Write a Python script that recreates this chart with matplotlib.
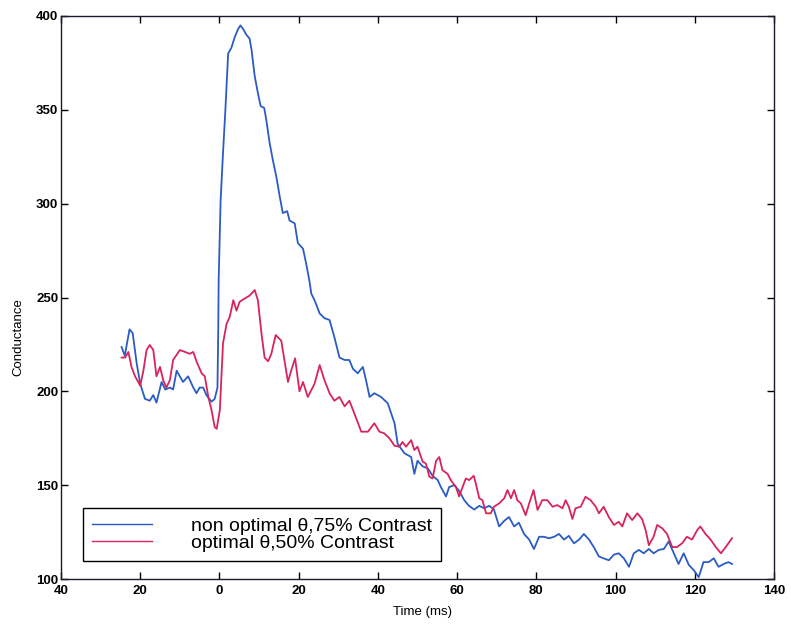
import matplotlib
matplotlib.use("Agg")
import matplotlib.pyplot as plt

# ---- data ----
blue_t = [-24.7, -23.9, -22.7, -21.9, -20.9, -20.0, -18.8, -17.6, -16.7, -15.9, -14.6, -13.7,
          -12.5, -11.7, -10.8, -10.0, -9.2, -7.9, -6.6, -5.8, -5.0, -4.1, -3.3, -2.0, -1.2,
          -0.5, -0.3, -0.2, 0.3, 0.9, 1.5, 2.2, 3.0, 3.9, 4.7, 5.3, 6.0, 6.8, 7.6, 8.1, 8.9,
          9.7, 10.4, 11.3, 11.8, 12.7, 13.5, 14.4, 15.2, 16.0, 17.1, 17.7, 19.0, 19.8, 21.1,
          21.9, 22.7, 23.2, 24.0, 25.3, 26.5, 27.8, 29.0, 30.3, 31.6, 32.8, 33.7, 34.9, 36.2,
          37.0, 37.9, 39.1, 40.8, 42.5, 44.2, 45.0, 46.7, 48.4, 49.2, 50.0, 51.3, 52.6, 53.8,
          55.1, 55.9, 57.2, 58.0, 59.3, 60.5, 61.8, 63.0, 64.3, 65.6, 66.8, 68.1, 69.3, 70.6,
          71.9, 73.1, 74.4, 75.6, 76.9, 78.2, 79.4, 80.7, 81.9, 83.2, 84.5, 85.7, 87.0, 88.2,
          89.5, 90.8, 92.0, 93.3, 94.5, 95.8, 97.0, 98.3, 99.6, 100.8, 102.1, 103.4, 104.6,
          105.9, 107.1, 108.4, 109.6, 110.9, 112.2, 113.4, 114.7, 115.9, 117.2, 118.5, 119.7,
          121.0, 122.2, 123.5, 124.8, 126.0, 127.3, 128.5, 129.4]
blue_v = [223.6, 219, 233, 231, 215, 204, 196, 195, 198, 194, 205, 201,
          202, 201, 211, 208, 205, 208, 202, 199, 202, 202, 198, 194.5, 196,
          202, 233, 259, 302, 327, 350, 380, 383, 389, 393, 395, 393, 390, 388, 382, 368,
          359, 352, 351, 345, 332, 323, 314, 304, 295, 296, 291, 289.5, 279, 276,
          268, 259, 252, 248.6, 241.5, 239, 238, 229, 218, 216.7, 216.7, 212, 209.6, 213,
          206, 197, 199, 197, 193.6, 183, 172, 167, 165, 156, 163, 160, 159, 155,
          152.7, 149, 144, 149, 150, 147, 142, 139, 137, 139, 137.7, 139, 137, 128,
          131, 133, 128, 130, 124, 121, 116, 122.5, 122.5, 121.7, 122.5, 124, 121, 123,
          119, 121, 124, 121, 117, 112, 111, 110, 113, 113.7, 111, 106.5, 113.7,
          115.5, 113.7, 116, 113.7, 115.5, 116, 120, 113.7, 108, 113.7, 107.5, 104.8,
          101, 109, 109, 111, 106.5, 108, 109, 108]

red_t = [-24.7, -23.8, -23.0, -22.2, -21.3, -20.0, -19.2, -18.4, -17.6, -16.7, -15.9, -15.0,
         -14.2, -13.4, -12.5, -11.7, -10.0, -8.7, -7.5, -6.6, -5.8, -4.5, -3.7, -2.8, -2.0,
         -1.2, -0.7, 0.1, 0.9, 1.8, 2.6, 3.5, 4.3, 5.1, 6.4, 7.6, 8.9, 9.7, 10.6, 11.4, 12.3,
         13.1, 14.2, 15.6, 16.4, 17.3, 18.1, 19.1, 20.2, 21.1, 22.3, 24.0, 25.3, 26.5, 27.8,
         29.0, 30.3, 31.6, 32.8, 34.1, 35.8, 37.5, 39.1, 40.4, 41.6, 42.9, 44.2, 45.4, 46.2,
         47.1, 48.4, 49.2, 50.0, 51.3, 52.1, 53.0, 53.8, 54.7, 55.5, 56.3, 57.6, 58.4, 59.7,
         60.5, 61.4, 62.2, 63.0, 64.2, 64.7, 65.6, 66.4, 67.3, 68.5, 69.3, 70.6, 71.9, 72.7,
         73.6, 74.4, 75.2, 76.1, 77.3, 78.2, 79.3, 80.3, 81.5, 82.8, 84.1, 85.3, 86.6, 87.4,
         88.2, 89.1, 89.9, 91.2, 92.4, 93.7, 95.0, 95.8, 97.0, 98.3, 99.6, 100.8, 101.7,
         102.9, 104.2, 105.5, 106.7, 107.6, 108.4, 109.6, 110.5, 111.8, 113.0, 114.3, 115.5,
         116.8, 118.0, 119.3, 120.6, 121.4, 122.7, 124.0, 125.3, 126.6, 127.8, 129.4]
red_v = [218, 218, 221, 213, 208, 203, 211, 222, 224.7, 222, 208, 213,
         206, 202, 206, 216.7, 222, 221, 220, 221, 216, 209.6, 208, 197, 190,
         181, 180, 190, 225.6, 236, 239.7, 248.6, 243, 247.7, 249.5, 251, 254, 248.6, 231, 218, 216,
         220, 230, 227, 216.7, 205, 211, 217.6, 200, 205, 197, 204, 214, 206, 199,
         195, 197, 192, 195, 188, 178.5, 178.5, 183, 178.5, 177.6, 175, 171, 170.5, 173,
         170.5, 174, 168.7, 170.5, 162.5, 161.6, 154.5, 153.6, 163, 165, 158, 156, 152.7, 149,
         144, 149, 153.6, 152.7, 155, 151, 143, 142, 135, 135, 138.5, 140.3, 143, 147.4,
         143, 147.4, 142, 140.3, 134, 140.3, 147.4, 136.8, 142, 142, 138.5, 139.4, 137.7, 142,
         138.5, 132, 137.7, 138.5, 143.8, 142, 138.5, 135, 138.5, 133, 128.8, 130.5, 128,
         135, 131.4, 135, 132, 126, 118, 122.5, 128.8, 127, 124, 117, 117,
         119, 122.5, 121, 126, 128, 124, 121, 117, 113.7, 117, 121.7]

x_ticks = [-40, -20, 0, 20, 40, 60, 80, 100, 120, 140]
x_tick_labels = ["40", "20", "0", "20", "40", "60", "80", "100", "120", "140"]
y_ticks = [100, 150, 200, 250, 300, 350, 400]
labels = ["non optimal \u03b8,75% Contrast", "optimal \u03b8,50% Contrast"]

plt.rcParams['font.family'] = ['Liberation Sans', 'DejaVu Sans']

fig = plt.figure(figsize=(7.91, 6.27), dpi=100)
ax = fig.add_axes([61/791, 48/627, 713/791, 563/627])

blue = '#2a5cc4'
red = '#d8245a'
ax.plot(blue_t, blue_v, color=blue, lw=1.3, label=labels[0])
ax.plot(red_t, red_v, color=red, lw=1.3, label=labels[1])

ax.set_xlim(-40, 140)
ax.set_ylim(100, 400)
ax.set_xticks(x_ticks)
ax.set_xticklabels(x_tick_labels)
ax.set_yticks(y_ticks)
ax.tick_params(direction='in', length=5, width=1, top=True, right=True,
               labelsize=9.5, pad=4)
for lab in ax.get_xticklabels() + ax.get_yticklabels():
    lab.set_fontweight('bold')
ax.tick_params(axis='y', pad=2)
for sp in ax.spines.values():
    sp.set_linewidth(1.0)
    sp.set_color('#1a1a2e')

fig.text(18/791, 1 - 337/627, "Conductance", rotation=90, ha='center', va='center', fontsize=9.5)
fig.text(422/791, 1 - 612/627, "Time (ms)", ha='center', va='center', fontsize=9.5)

leg = ax.legend(loc='lower left', bbox_to_anchor=((83-61)/713, (579-561)/563),
                borderaxespad=0, fontsize=14, handlelength=3.1, handletextpad=2.0,
                borderpad=0.45, labelspacing=0.0, fancybox=False, framealpha=1,
                edgecolor='black')
leg.get_frame().set_linewidth(1.0)
for l in leg.get_lines():
    l.set_linewidth(1.0)

fig.savefig("out.png", dpi=100)
